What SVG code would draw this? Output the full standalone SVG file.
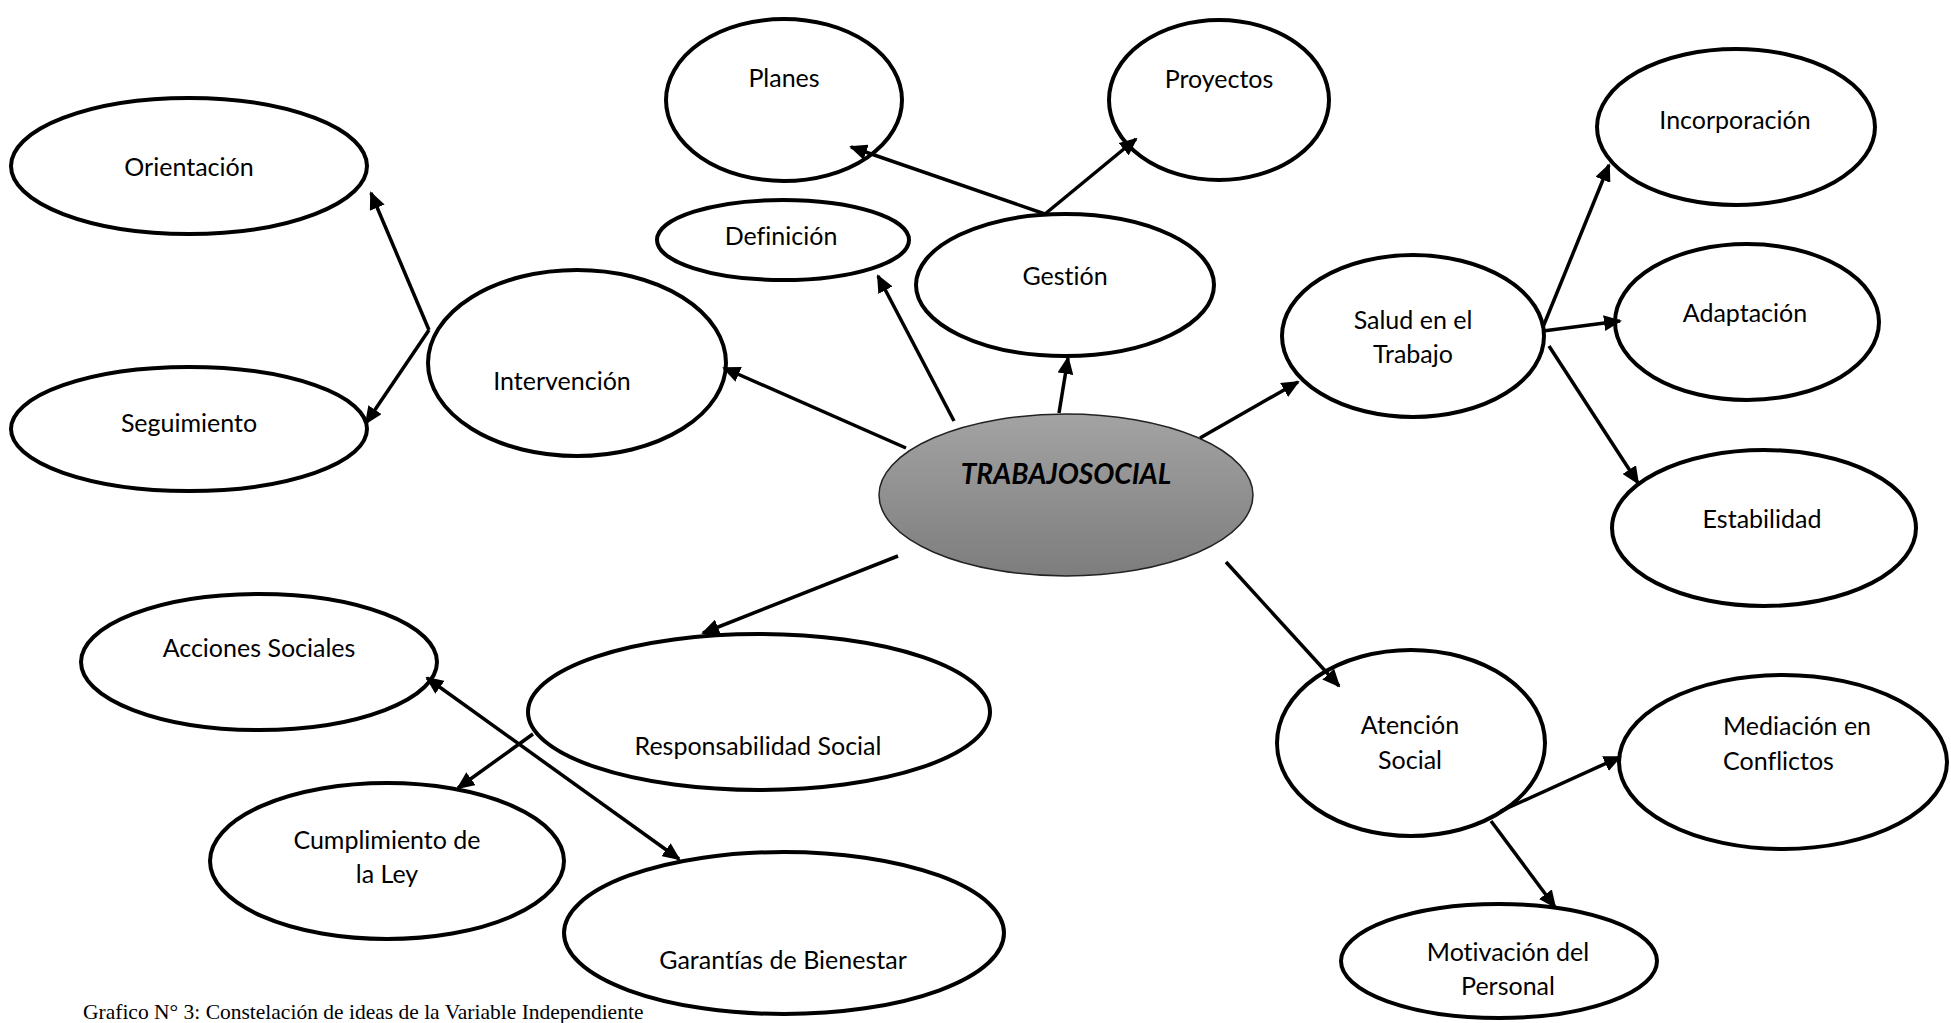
<svg xmlns="http://www.w3.org/2000/svg" width="1951" height="1023" viewBox="0 0 1951 1023">
<style>
.n{fill:#fff;stroke:#000;stroke-width:4}
.t{font-family:Lato,"Noto Sans","Liberation Sans",sans-serif;font-size:25px;fill:#000;text-anchor:middle;dominant-baseline:central;font-variant-ligatures:none}
.c{stroke:#000;stroke-width:3.5;fill:none;marker-end:url(#ah)}
</style>
<defs>
<marker id="ah" markerUnits="userSpaceOnUse" markerWidth="18" markerHeight="16" refX="16" refY="8" orient="auto"><path d="M0,0 L18,8 L0,16 z" fill="#000"/></marker>
<marker id="as" markerUnits="userSpaceOnUse" markerWidth="18" markerHeight="16" refX="2" refY="8" orient="auto"><path d="M18,0 L0,8 L18,16 z" fill="#000"/></marker>
<linearGradient id="g" x1="0" y1="0" x2="0" y2="1"><stop offset="0" stop-color="#a3a3a3"/><stop offset="1" stop-color="#7d7d7d"/></linearGradient>
</defs>
<rect width="1951" height="1023" fill="#fff"/>
<g id="planes"><ellipse class="n" cx="784" cy="100" rx="118" ry="81"/><text class="t" x="784" y="77">Planes</text></g>
<g id="proyectos"><ellipse class="n" cx="1219" cy="100" rx="110" ry="80"/><text class="t" x="1219" y="78">Proyectos</text></g>
<g id="orientacion"><ellipse class="n" cx="189" cy="166" rx="178" ry="68"/><text class="t" x="189" y="166">Orientación</text></g>
<g id="definicion"><ellipse class="n" cx="783" cy="240" rx="126" ry="40"/><text class="t" x="781" y="235">Definición</text></g>
<g id="gestion"><ellipse class="n" cx="1065" cy="285" rx="149" ry="71"/><text class="t" x="1065" y="275">Gestión</text></g>
<g id="intervencion"><ellipse class="n" cx="577" cy="363" rx="149" ry="93"/><text class="t" x="562" y="380">Intervención</text></g>
<g id="seguimiento"><ellipse class="n" cx="189" cy="429" rx="178" ry="62"/><text class="t" x="189" y="422">Seguimiento</text></g>
<g id="trabajosocial"><ellipse cx="1066" cy="495" rx="187" ry="81" fill="url(#g)" stroke="#222" stroke-width="1.5"/><text class="t" x="1066" y="473" font-weight="bold" font-style="italic" style="font-size:28px">TRABAJOSOCIAL</text></g>
<g id="salud"><ellipse class="n" cx="1413" cy="336" rx="131" ry="81"/><text class="t" x="1413" y="319">Salud en el</text><text class="t" x="1413" y="353">Trabajo</text></g>
<g id="incorporacion"><ellipse class="n" cx="1736" cy="127" rx="139" ry="78"/><text class="t" x="1735" y="119">Incorporación</text></g>
<g id="adaptacion"><ellipse class="n" cx="1747" cy="322" rx="132" ry="78"/><text class="t" x="1745" y="312">Adaptación</text></g>
<g id="estabilidad"><ellipse class="n" cx="1764" cy="528" rx="152" ry="78"/><text class="t" x="1762" y="518">Estabilidad</text></g>
<g id="acciones"><ellipse class="n" cx="259" cy="662" rx="178" ry="68"/><text class="t" x="259" y="647">Acciones Sociales</text></g>
<g id="responsabilidad"><ellipse class="n" cx="759" cy="712" rx="231" ry="78"/><text class="t" x="758" y="745">Responsabilidad Social</text></g>
<g id="cumplimiento"><ellipse class="n" cx="387" cy="861" rx="177" ry="78"/><text class="t" x="387" y="839">Cumplimiento de</text><text class="t" x="387" y="873">la Ley</text></g>
<g id="garantias"><ellipse class="n" cx="784" cy="933" rx="220" ry="81"/><text class="t" x="783" y="959">Garantías de Bienestar</text></g>
<g id="atencion"><ellipse class="n" cx="1411" cy="743" rx="134" ry="93"/><text class="t" x="1410" y="724">Atención</text><text class="t" x="1410" y="759">Social</text></g>
<g id="mediacion"><ellipse class="n" cx="1783" cy="762" rx="164" ry="87"/><text class="t" x="1723" y="725" style="text-anchor:start">Mediación en</text><text class="t" x="1723" y="760" style="text-anchor:start">Conflictos</text></g>
<g id="motivacion"><ellipse class="n" cx="1499" cy="961" rx="158" ry="57"/><text class="t" x="1508" y="951">Motivación del</text><text class="t" x="1508" y="985">Personal</text></g>
<g id="connectors">
<line class="c" x1="429" y1="330" x2="371" y2="193"/>
<line class="c" x1="429" y1="330" x2="366" y2="423"/>
<line class="c" x1="906" y1="448" x2="724" y2="368"/>
<line class="c" x1="954" y1="421" x2="878" y2="276"/>
<line class="c" x1="1059" y1="413" x2="1068" y2="358"/>
<line class="c" x1="1045" y1="214" x2="851" y2="147"/>
<line class="c" x1="1045" y1="214" x2="1136" y2="139"/>
<line class="c" x1="1200" y1="438" x2="1298" y2="382"/>
<line class="c" x1="1543" y1="327" x2="1609" y2="165"/>
<line class="c" x1="1543" y1="331" x2="1620" y2="321"/>
<line class="c" x1="1549" y1="346" x2="1638" y2="483"/>
<line class="c" x1="1226" y1="562" x2="1339" y2="686"/>
<line class="c" x1="1501" y1="811" x2="1620" y2="757"/>
<line class="c" x1="1491" y1="821" x2="1555" y2="907"/>
<line class="c" x1="898" y1="556" x2="703" y2="633"/>
<line class="c" x1="533" y1="734" x2="458" y2="788"/>
<line class="c" x1="427" y1="678" x2="679" y2="859" marker-start="url(#as)"/>
</g>
<text x="83" y="1019" font-family="'Liberation Serif',serif" font-size="21.5" fill="#000">Grafico N° 3: Constelación de ideas de la Variable Independiente</text>
</svg>
